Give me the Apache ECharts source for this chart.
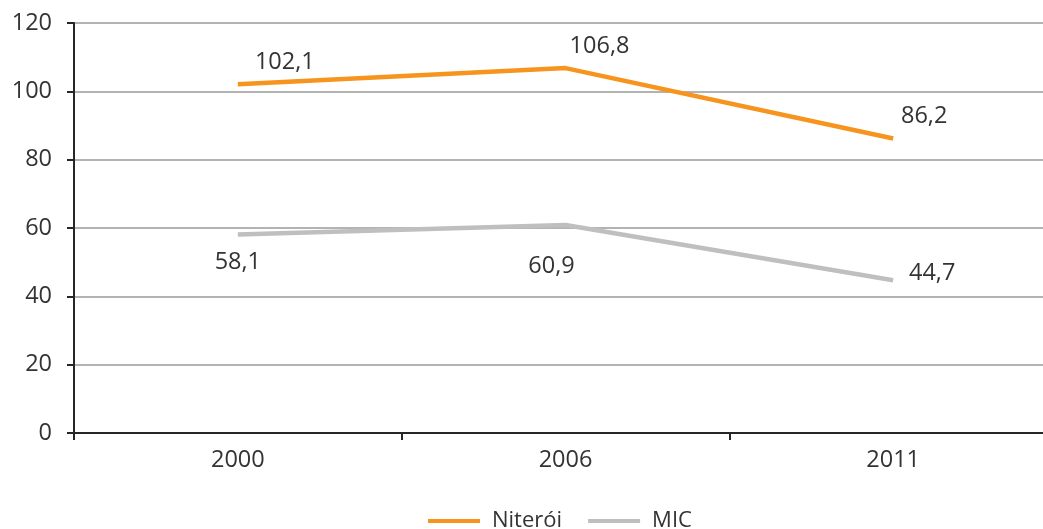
<!DOCTYPE html>
<html>
<head>
<meta charset="utf-8">
<script src="https://cdn.jsdelivr.net/npm/echarts@6/dist/echarts.min.js"></script>
<style>html,body{margin:0;padding:0;background:#fff;overflow:hidden;width:1043px;height:529px}#c{width:1057px;height:529px}</style>
</head>
<body>
<div id="c"></div>
<script>
const categories = ['2000', '2006', '2011'];
const niteroi = [102.1, 106.8, 86.2];
const mic = [58.1, 60.9, 44.7];
const yTicks = [0, 20, 40, 60, 80, 100, 120];

const niteroiOffsets = [[47, -22], [34, -22], [31, -22]];
const micOffsets = [[0, 28], [-14, 41], [39, -7]];

const FONT = '"Open Sans", "Noto Sans", sans-serif';
const TXT = '#333333';
const FS = 23.5;

function items(vals, offs) {
  return vals.map((v, i) => ({
    value: v,
    label: { offset: offs[i] }
  }));
}

const chart = echarts.init(document.getElementById('c'));
chart.setOption({
  animation: false,
  textStyle: { fontFamily: FONT },
  grid: { left: 74, right: 0, top: 23, bottom: 96, containLabel: false },
  legend: {
    bottom: -8,
    left: 423,
    itemWidth: 52,
    itemHeight: 4,
    itemGap: 26,
    icon: 'rect',
    textStyle: { fontFamily: FONT, fontSize: 22, color: TXT, padding: [0, 0, 0, 7] },
    data: ['Niterói', 'MIC']
  },
  xAxis: {
    type: 'category',
    data: categories,
    boundaryGap: true,
    axisLine: { lineStyle: { color: '#262626', width: 2 } },
    axisTick: { show: true, inside: false, length: 7, lineStyle: { color: '#262626', width: 2 } },
    axisLabel: { fontFamily: FONT, fontSize: FS, color: TXT, margin: 15 }
  },
  yAxis: {
    type: 'value',
    min: yTicks[0],
    max: yTicks[yTicks.length - 1],
    interval: 20,
    axisLine: { show: true, lineStyle: { color: '#262626', width: 2 } },
    axisTick: { show: true, inside: false, length: 7, lineStyle: { color: '#262626', width: 2 } },
    axisLabel: { fontFamily: FONT, fontSize: FS, color: TXT, margin: 22 },
    splitLine: { show: true, lineStyle: { color: '#9a9a9a', width: 1.5 } }
  },
  series: [
    {
      name: 'Niterói',
      type: 'line',
      data: items(niteroi, niteroiOffsets),
      symbol: 'circle',
      symbolSize: 0,
      showSymbol: true,
      color: '#F7941D',
      lineStyle: { color: '#F7941D', width: 4.5 },
      label: {
        show: true, position: 'inside', fontFamily: FONT, fontSize: FS, color: TXT,
        formatter: p => String(p.value).replace('.', ',')
      }
    },
    {
      name: 'MIC',
      type: 'line',
      data: items(mic, micOffsets),
      symbol: 'circle',
      symbolSize: 0,
      showSymbol: true,
      color: '#BFBFBF',
      lineStyle: { color: '#BFBFBF', width: 4.5 },
      label: {
        show: true, position: 'inside', fontFamily: FONT, fontSize: FS, color: TXT,
        formatter: p => String(p.value).replace('.', ',')
      }
    }
  ]
});
</script>
</body>
</html>
